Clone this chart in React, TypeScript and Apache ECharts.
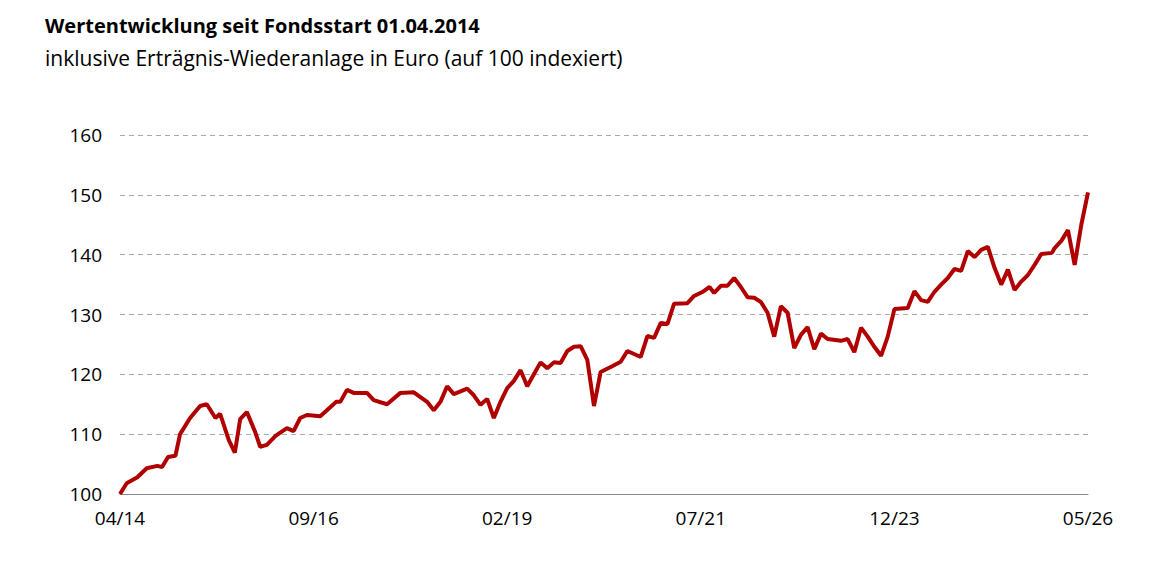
import { useEffect, useRef } from 'react';
import * as echarts from 'echarts';

// month index since 04/2014 and indexed value
const MONTHS: number[] = [0, 1, 2.6, 4, 5.6, 6.3, 7.2, 8.3, 9, 10.5, 12, 13, 14.3, 15, 16.3, 17.2, 18, 19, 20.2, 21, 22, 23.3, 25, 26, 27, 28, 30, 31, 32.4, 33, 34, 35, 37, 38, 40, 42, 44, 45, 46, 47, 48, 49, 50, 52, 53, 54, 55, 56, 57, 58, 59, 60, 61, 62, 63, 64, 65, 66, 67, 68, 69, 70, 71, 72, 73.8, 75, 76, 78, 79, 80, 81, 82, 83, 85, 86, 87.3, 88.3, 89, 90, 91, 92, 93, 94, 95, 96, 97, 98, 99, 100, 101, 102, 103, 104, 105, 106, 108, 109, 110, 111, 112, 113, 114, 115, 116, 118, 119, 120, 121, 122, 123, 124, 125, 126, 127, 128, 129, 130, 131, 132, 133, 134, 135, 136, 137, 138, 139.6, 140, 141, 142, 143, 144, 145];
const VALUES: number[] = [100, 101.8, 102.8, 104.3, 104.7, 104.5, 106.2, 106.4, 110, 112.7, 114.7, 115, 112.7, 113.4, 109, 106.9, 112.5, 113.7, 110.5, 107.9, 108.2, 109.7, 111, 110.5, 112.7, 113.2, 113, 114, 115.4, 115.4, 117.4, 116.9, 116.9, 115.7, 115, 116.9, 117, 116.2, 115.4, 114, 115.4, 118, 116.7, 117.6, 116.5, 114.9, 115.9, 112.7, 115.4, 117.7, 118.9, 120.7, 118, 120, 122, 121, 122, 121.9, 123.9, 124.6, 124.7, 122.4, 114.7, 120.4, 121.4, 122.1, 123.9, 122.9, 126.4, 126.1, 128.6, 128.4, 131.8, 131.9, 133.1, 133.8, 134.6, 133.6, 134.8, 134.8, 136.1, 134.6, 132.9, 132.8, 132.1, 130.3, 126.3, 131.4, 130.3, 124.4, 126.6, 127.9, 124.2, 126.8, 125.9, 125.6, 125.9, 123.7, 127.8, 126.3, 124.6, 123.1, 126.3, 130.9, 131.1, 133.9, 132.4, 132.1, 133.8, 135, 136.1, 137.6, 137.3, 140.6, 139.6, 140.8, 141.3, 137.8, 135, 137.5, 134.1, 135.5, 136.6, 138.3, 140.1, 140.3, 141.1, 142.3, 144.1, 138.3, 145, 150.4];
const Y_TICKS = { min: 100, max: 160, interval: 10 };

function monthLabel(i: number) {
  const total = 3 + Math.round(i); // April 2014 = month 3 (0-based)
  const y = 14 + Math.floor(total / 12);
  const m = (total % 12) + 1;
  return `${String(m).padStart(2, '0')}/${y}`;
}

export default function App() {
  const ref = useRef<HTMLDivElement>(null);

  useEffect(() => {
    document.body.style.margin = '0';
    if (!ref.current) return;
    const chart = echarts.init(ref.current, undefined, { renderer: 'svg' });
    const font = 'Open Sans, Liberation Sans, sans-serif';
    chart.setOption({
      animation: false,
      title: {
        text: 'Wertentwicklung seit Fondsstart 01.04.2014',
        subtext: 'inklusive Erträgnis-Wiederanlage in Euro (auf 100 indexiert)',
        left: 40, top: 10, itemGap: 12,
        textStyle: { fontFamily: font, fontSize: 20, fontWeight: 'bold', color: '#000' },
        subtextStyle: { fontFamily: font, fontSize: 21, color: '#000' },
      },
      grid: { left: 120, right: 65, top: 135, bottom: 83 },
      xAxis: {
        type: 'value', min: 0, max: 145, interval: 29,
        axisLine: { lineStyle: { color: '#888' } },
        axisTick: { show: false },
        splitLine: { show: false },
        axisLabel: { formatter: (v: number) => monthLabel(v), fontFamily: font, fontSize: 19, color: '#000', margin: 14 },
      },
      yAxis: {
        type: 'value', ...Y_TICKS,
        axisLine: { show: false }, axisTick: { show: false },
        splitLine: { lineStyle: { color: '#aaa', type: [5, 4], width: 1.2 } },
        axisLabel: { fontFamily: font, fontSize: 19, color: '#000', margin: 18 },
      },
      series: [{
        type: 'line',
        data: MONTHS.map((m, i) => [m, VALUES[i]]),
        showSymbol: false,
        lineStyle: { color: '#b00000', width: 4 },
        itemStyle: { color: '#b00000' },
      }],
    });
    return () => chart.dispose();
  }, []);

  return <div ref={ref} style={{ width: 1153, height: 577 }} />;
}
